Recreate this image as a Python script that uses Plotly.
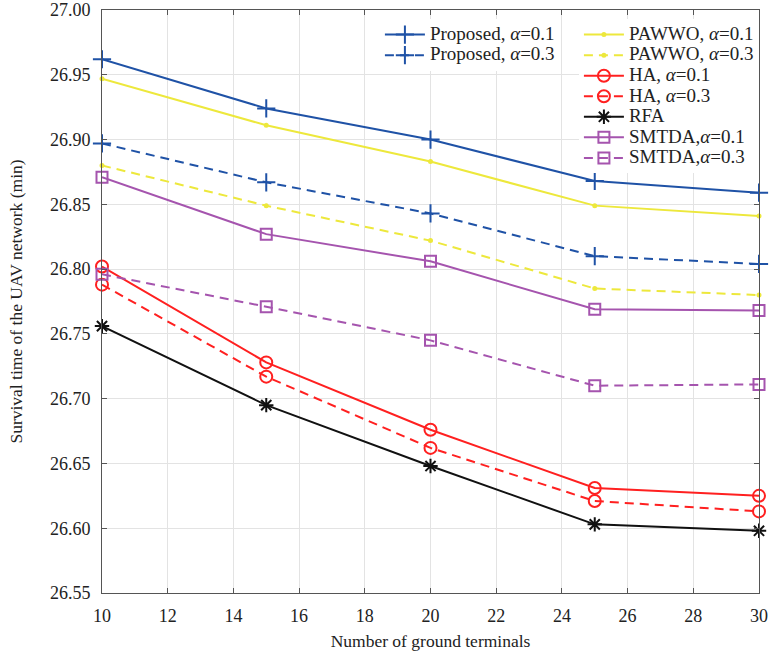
import plotly.graph_objects as go

x_terminals = [10, 15, 20, 25, 30]

proposed_01 = [26.962, 26.924, 26.900, 26.868, 26.859]
proposed_03 = [26.897, 26.867, 26.843, 26.810, 26.804]
pawwo_01 = [26.947, 26.911, 26.883, 26.849, 26.841]
pawwo_03 = [26.880, 26.849, 26.822, 26.785, 26.780]
ha_01 = [26.802, 26.728, 26.676, 26.631, 26.625]
ha_03 = [26.788, 26.717, 26.662, 26.621, 26.613]
rfa = [26.756, 26.695, 26.648, 26.603, 26.598]
smtda_01 = [26.871, 26.827, 26.806, 26.769, 26.768]
smtda_03 = [26.796, 26.771, 26.745, 26.710, 26.711]

x_ticks = [10, 12, 14, 16, 18, 20, 22, 24, 26, 28, 30]
y_ticks = [26.55, 26.60, 26.65, 26.70, 26.75, 26.80, 26.85, 26.90, 26.95, 27.00]

BLUE = "#1F52A6"
YELLOW = "#EDE83C"
RED = "#FF2020"
BLACK = "#111111"
PURPLE = "#A554AE"
DASH = "9px,6px"
FONT = "Liberation Serif"
TXT = "#222222"


def lg(s):
    return f"<span style='font-size:19px'>{s}</span>"


series = [
    ("Proposed, <i>α</i>=0.1", proposed_01, BLUE, "solid", "cross-thin-open", 13, "legend"),
    ("Proposed, <i>α</i>=0.3", proposed_03, BLUE, DASH, "cross-thin-open", 13, "legend"),
    ("PAWWO, <i>α</i>=0.1", pawwo_01, YELLOW, "solid", "circle", 3, "legend2"),
    ("PAWWO, <i>α</i>=0.3", pawwo_03, YELLOW, DASH, "circle", 3, "legend2"),
    ("HA, <i>α</i>=0.1", ha_01, RED, "solid", "circle-open", 12, "legend2"),
    ("HA, <i>α</i>=0.3", ha_03, RED, DASH, "circle-open", 12, "legend2"),
    ("RFA", rfa, BLACK, "solid", "asterisk-open", 12, "legend2"),
    ("SMTDA,<i>α</i>=0.1", smtda_01, PURPLE, "solid", "square-open", 11, "legend2"),
    ("SMTDA,<i>α</i>=0.3", smtda_03, PURPLE, DASH, "square-open", 11, "legend2"),
]

fig = go.Figure()
for name, vals, color, dash, sym, size, leg in series:
    fig.add_trace(go.Scatter(
        x=x_terminals, y=vals, name=lg(name), mode="lines+markers",
        line=dict(color=color, width=2, dash=dash),
        marker=dict(symbol=sym, size=size, color=color,
                    line=dict(color=color, width=2)),
        legend=leg, cliponaxis=False,
    ))

axis_common = dict(
    showline=True, linecolor="#555555", linewidth=1, mirror="ticks",
    ticks="inside", ticklen=5, tickcolor="#555555",
    showgrid=True, gridcolor="#E3E3E3", gridwidth=1, zeroline=False,
    tickfont=dict(family=FONT, size=18, color=TXT),
    automargin=False, ticklabeloverflow="allow",
)

fig.update_xaxes(range=[10, 30], tickvals=x_ticks,
                 ticktext=[str(v) for v in x_ticks],
                 ticklabelstandoff=6,
                 title=dict(text="Number of ground terminals",
                            font=dict(family=FONT, size=17.5, color=TXT),
                            standoff=10),
                 **axis_common)
fig.update_yaxes(range=[26.55, 27.00], tickvals=y_ticks,
                 ticktext=[f"{v:.2f}" for v in y_ticks],
                 ticklabelstandoff=7,
                 title=dict(text="Survival time of the UAV network (min)",
                            font=dict(family=FONT, size=17.5, color=TXT),
                            standoff=22),
                 **axis_common)

legend_common = dict(
    bgcolor="white", borderwidth=0, font=dict(family=FONT, size=13.5, color=TXT),
    tracegroupgap=0, itemwidth=40, xanchor="left", yanchor="top",
)
fig.update_layout(
    template="plotly_white",
    width=769, height=659,
    margin=dict(l=102, r=10, t=10, b=66, autoexpand=False),
    plot_bgcolor="white", paper_bgcolor="white",
    legend=dict(x=0.423, y=0.984, **legend_common),
    legend2=dict(x=0.7259, y=0.984, **legend_common),
)

fig.write_html("out.html",
               config={"displayModeBar": False},
               post_script="document.body.style.margin='0';document.body.style.overflow='hidden';")
